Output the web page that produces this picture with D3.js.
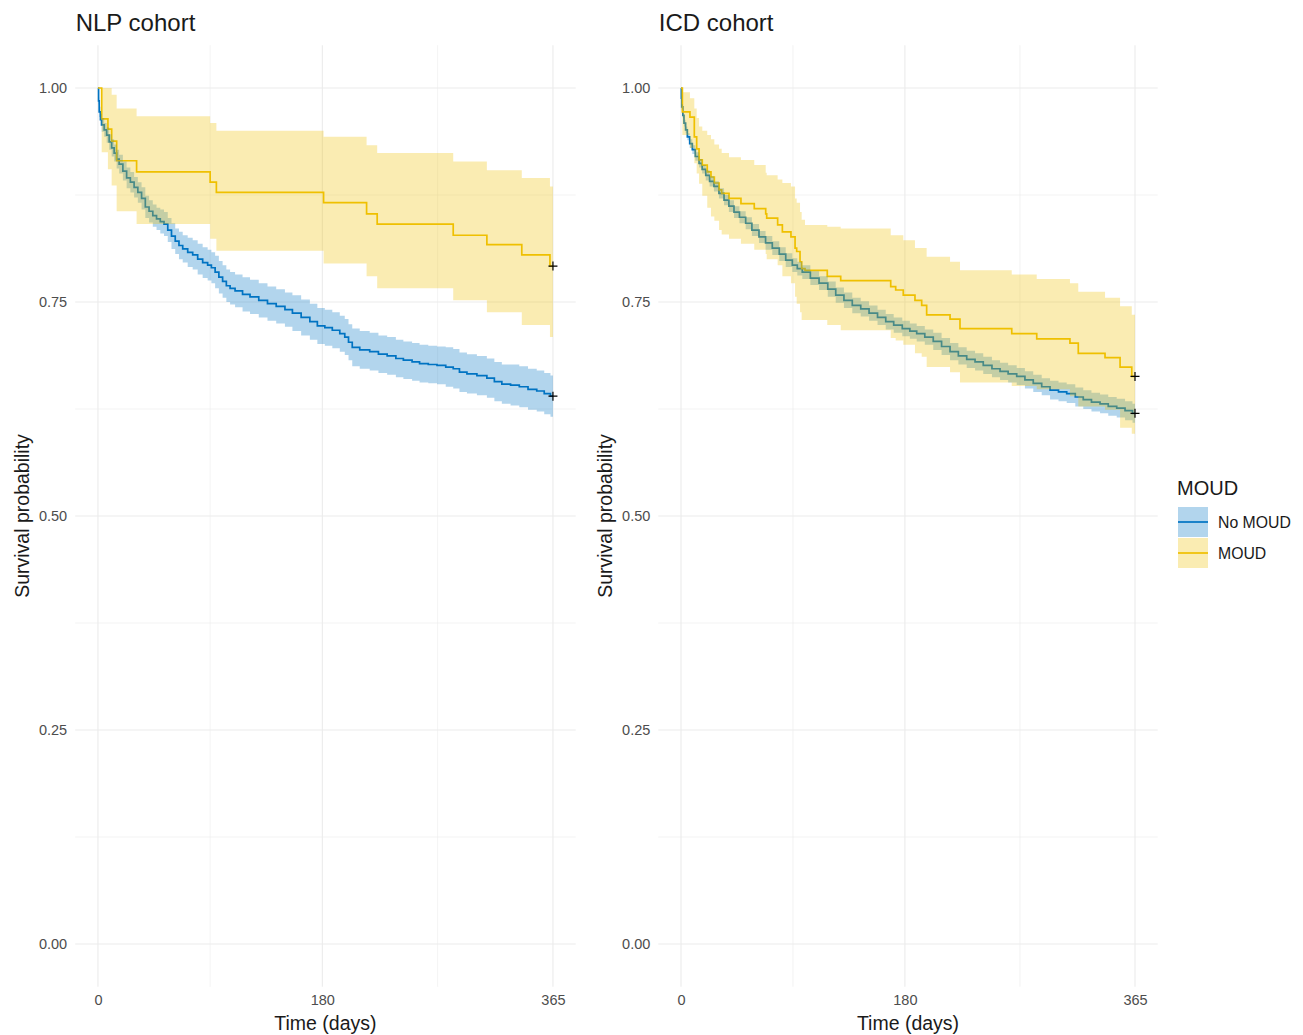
<!DOCTYPE html>
<html>
<head>
<meta charset="utf-8">
<script src="https://cdn.jsdelivr.net/npm/d3@7"></script>
<style>
  html, body { margin: 0; padding: 0; background: #fff; }
  svg { display: block; font-family: "Liberation Sans", Arial, sans-serif; }
</style>
</head>
<body>
<svg id="chart" width="1303" height="1035"></svg>
<script>
// ---------------- DATA ----------------
const xTicks = [0, 180, 365];
const xMinor = [90, 272.5];
const yTicks = [0, 0.25, 0.5, 0.75, 1.0];
const yMinor = [0.125, 0.375, 0.625, 0.875];
const yTickLabels = ["0.00", "0.25", "0.50", "0.75", "1.00"];
const panelTitles = ["NLP cohort", "ICD cohort"];
const groups = ["No MOUD", "MOUD"];
const groupColors = ["#0073C2", "#EFC000"];

// NLP cohort, No MOUD
const nlpNoTime  = [0,0.5,1,2,3,5,7,9,11,13,15,17,20,23,26,29,32,35,38,41,44,47,50,53,56,59,62,65,68,72,76,80,84,88,91,94,97,100,103,106,110,116,122,129,136,143,150,156,163,170,176,182,188,194,198,201,204,210,218,225,232,239,245,252,258,265,272,279,285,290,296,304,312,318,324,331,338,345,352,358,363,365];
const nlpNoSurv  = [1.000,0.985,0.972,0.963,0.957,0.951,0.945,0.937,0.930,0.924,0.917,0.911,0.903,0.895,0.890,0.884,0.878,0.871,0.861,0.856,0.851,0.847,0.844,0.841,0.834,0.827,0.821,0.816,0.812,0.808,0.805,0.800,0.796,0.793,0.790,0.785,0.779,0.774,0.769,0.766,0.763,0.759,0.756,0.752,0.748,0.745,0.741,0.737,0.732,0.727,0.722,0.720,0.717,0.713,0.709,0.703,0.697,0.694,0.692,0.689,0.687,0.684,0.682,0.680,0.678,0.677,0.676,0.674,0.672,0.668,0.666,0.664,0.661,0.657,0.654,0.653,0.651,0.648,0.646,0.643,0.640,0.640];
const nlpNoLower = [1.000,0.981,0.966,0.956,0.949,0.943,0.936,0.928,0.920,0.914,0.906,0.900,0.892,0.883,0.878,0.872,0.866,0.858,0.848,0.843,0.838,0.834,0.830,0.827,0.820,0.812,0.806,0.800,0.796,0.791,0.788,0.782,0.778,0.775,0.772,0.766,0.760,0.755,0.750,0.747,0.744,0.739,0.736,0.732,0.728,0.725,0.721,0.716,0.711,0.706,0.701,0.699,0.696,0.692,0.688,0.682,0.675,0.672,0.670,0.667,0.665,0.662,0.660,0.658,0.656,0.655,0.654,0.651,0.649,0.645,0.643,0.641,0.638,0.634,0.631,0.629,0.627,0.624,0.622,0.619,0.616,0.616];
const nlpNoUpper = [1.000,0.989,0.978,0.970,0.965,0.959,0.954,0.946,0.940,0.934,0.928,0.922,0.914,0.907,0.902,0.896,0.890,0.884,0.874,0.869,0.864,0.860,0.858,0.855,0.848,0.842,0.836,0.832,0.828,0.825,0.822,0.818,0.814,0.811,0.808,0.804,0.798,0.793,0.788,0.785,0.782,0.779,0.776,0.772,0.768,0.765,0.761,0.758,0.753,0.748,0.743,0.741,0.738,0.734,0.730,0.724,0.719,0.716,0.714,0.711,0.709,0.706,0.704,0.702,0.700,0.699,0.698,0.697,0.695,0.691,0.689,0.687,0.684,0.680,0.677,0.677,0.675,0.672,0.670,0.667,0.664,0.664];

// NLP cohort, MOUD
const nlpMoTime  = [0,3,8,11,15,31,90,95,181,215.5,224,285,312,340,362.6,365];
const nlpMoSurv  = [1.000,0.964,0.952,0.938,0.915,0.902,0.890,0.878,0.866,0.853,0.841,0.828,0.817,0.805,0.792,0.792];
const nlpMoLower = [1.000,0.925,0.905,0.886,0.856,0.841,0.824,0.810,0.795,0.780,0.766,0.752,0.738,0.723,0.709,0.709];
const nlpMoUpper = [1.000,1.000,1.000,0.992,0.976,0.967,0.959,0.950,0.943,0.933,0.924,0.914,0.904,0.895,0.885,0.885];

// ICD cohort, No MOUD
const icdNoTime  = [0,0.3,0.6,1.5,2.4,3.7,5.1,7,9.1,11.5,14.5,17,19.9,23,26.5,30.5,34.6,38.5,42.6,47,52,57,62.7,68,73.4,79,84.2,89.5,93.5,97.5,104,111,118,124.4,131,137.7,144.5,151.2,158,164.6,171,177.9,184,189.5,196,202.8,209.5,216.3,223,229.7,236.4,243,250,256.5,263,269.9,276.5,283.2,290,296.7,303.5,310.1,317,323.4,330,336.9,343.5,350.3,357,363,365];
const icdNoSurv  = [1.000,0.988,0.978,0.968,0.959,0.951,0.943,0.935,0.928,0.920,0.912,0.905,0.898,0.891,0.885,0.877,0.869,0.862,0.855,0.849,0.842,0.834,0.826,0.819,0.813,0.806,0.799,0.793,0.789,0.785,0.778,0.772,0.765,0.758,0.752,0.746,0.742,0.737,0.732,0.727,0.723,0.719,0.716,0.713,0.709,0.704,0.698,0.692,0.687,0.683,0.680,0.676,0.672,0.669,0.666,0.663,0.659,0.655,0.651,0.647,0.645,0.643,0.639,0.636,0.633,0.631,0.628,0.626,0.623,0.620,0.620];
const icdNoLower = [1.000,0.986,0.975,0.965,0.955,0.947,0.939,0.930,0.923,0.915,0.907,0.900,0.892,0.885,0.879,0.871,0.863,0.855,0.848,0.842,0.835,0.827,0.819,0.811,0.805,0.798,0.791,0.785,0.781,0.777,0.770,0.764,0.756,0.749,0.743,0.737,0.733,0.728,0.723,0.718,0.714,0.710,0.707,0.704,0.700,0.694,0.688,0.682,0.677,0.673,0.670,0.666,0.662,0.659,0.656,0.653,0.649,0.645,0.641,0.636,0.634,0.632,0.628,0.625,0.622,0.620,0.617,0.615,0.612,0.609,0.609];
const icdNoUpper = [1.000,0.990,0.981,0.971,0.963,0.955,0.947,0.940,0.933,0.925,0.917,0.910,0.904,0.897,0.891,0.883,0.875,0.869,0.862,0.856,0.849,0.841,0.833,0.827,0.821,0.814,0.807,0.801,0.797,0.793,0.786,0.780,0.774,0.767,0.761,0.755,0.751,0.746,0.741,0.736,0.732,0.728,0.725,0.722,0.718,0.714,0.708,0.702,0.697,0.693,0.690,0.686,0.682,0.679,0.676,0.673,0.669,0.665,0.661,0.658,0.656,0.654,0.650,0.647,0.644,0.642,0.639,0.637,0.634,0.631,0.631];

// ICD cohort, MOUD
const icdMoTime  = [0,1.1,7.2,10.7,12.6,14.5,17.1,21.1,24.1,26.8,30.6,32.7,38.6,48.2,58.9,68.1,68.9,77.7,81.5,88.4,91.7,93,95.7,97,99.7,117.6,128.4,168.6,172.6,178.7,188.1,193.5,197.5,216.3,224.3,265.9,286,312.7,319.4,340.9,353,362.4,365];
const icdMoSurv  = [1.000,0.972,0.966,0.943,0.929,0.916,0.910,0.902,0.896,0.889,0.881,0.877,0.871,0.865,0.859,0.853,0.848,0.840,0.832,0.826,0.813,0.809,0.797,0.789,0.787,0.780,0.775,0.768,0.764,0.758,0.752,0.746,0.735,0.730,0.719,0.713,0.707,0.702,0.690,0.685,0.674,0.663,0.663];
const icdMoLower = [1.000,0.945,0.930,0.912,0.900,0.888,0.874,0.860,0.850,0.845,0.834,0.829,0.824,0.818,0.811,0.806,0.800,0.793,0.780,0.772,0.756,0.748,0.738,0.729,0.729,0.723,0.717,0.708,0.705,0.700,0.690,0.686,0.674,0.668,0.656,0.652,0.648,0.640,0.628,0.624,0.603,0.596,0.596];
const icdMoUpper = [1.000,0.995,0.988,0.976,0.965,0.955,0.950,0.945,0.940,0.934,0.929,0.924,0.919,0.916,0.910,0.901,0.898,0.893,0.889,0.885,0.871,0.866,0.855,0.846,0.840,0.838,0.836,0.828,0.828,0.822,0.813,0.813,0.803,0.797,0.787,0.782,0.777,0.772,0.762,0.755,0.745,0.735,0.735];

// censoring marks at end of follow-up
const censorTime = [365, 365];
const nlpCensorSurv = [0.640, 0.792];
const icdCensorSurv = [0.620, 0.663];

// ---------------- BUILD ----------------
function series(t, s, lo, hi) {
  return t.map((d, i) => ({ t: d, s: s[i], lo: lo[i], hi: hi[i] }));
}
const panels = [
  {
    title: panelTitles[0], range: [75.2, 575.7],
    groups: [series(nlpNoTime, nlpNoSurv, nlpNoLower, nlpNoUpper),
             series(nlpMoTime, nlpMoSurv, nlpMoLower, nlpMoUpper)],
    censor: nlpCensorSurv
  },
  {
    title: panelTitles[1], range: [658.3, 1157.7],
    groups: [series(icdNoTime, icdNoSurv, icdNoLower, icdNoUpper),
             series(icdMoTime, icdMoSurv, icdMoLower, icdMoUpper)],
    censor: icdCensorSurv
  }
];

const svg = d3.select("#chart");
const y = d3.scaleLinear().domain([-0.05, 1.05]).range([986.8, 45.2]);
const gridCol = "#EBEBEB";
const FONT = "'Liberation Sans', Arial, sans-serif";

panels.forEach(p => {
  const x = d3.scaleLinear().domain([-18.25, 383.25]).range(p.range);
  const g = svg.append("g");

  // minor grid
  g.append("g").selectAll("line").data(yMinor).join("line")
    .attr("x1", p.range[0]).attr("x2", p.range[1])
    .attr("y1", d => y(d)).attr("y2", d => y(d))
    .attr("stroke", gridCol).attr("stroke-width", 0.6);
  g.append("g").selectAll("line").data(xMinor).join("line")
    .attr("y1", y.range()[0]).attr("y2", y.range()[1])
    .attr("x1", d => x(d)).attr("x2", d => x(d))
    .attr("stroke", gridCol).attr("stroke-width", 0.6);
  // major grid
  g.append("g").selectAll("line").data(yTicks).join("line")
    .attr("x1", p.range[0]).attr("x2", p.range[1])
    .attr("y1", d => y(d)).attr("y2", d => y(d))
    .attr("stroke", gridCol).attr("stroke-width", 1.1);
  g.append("g").selectAll("line").data(xTicks).join("line")
    .attr("y1", y.range()[0]).attr("y2", y.range()[1])
    .attr("x1", d => x(d)).attr("x2", d => x(d))
    .attr("stroke", gridCol).attr("stroke-width", 1.1);

  // axes (text only, theme_minimal)
  const xAxis = d3.axisBottom(x).tickValues(xTicks).tickSize(0).tickPadding(0);
  const xg = g.append("g").attr("transform", `translate(0, ${y.range()[0] + 8})`).call(xAxis);
  xg.select(".domain").remove();
  xg.selectAll("text").attr("fill", "#4D4D4D").attr("font-size", 14.5).attr("dy", "0.71em")
    .attr("font-family", FONT);

  const yAxis = d3.axisLeft(y).tickValues(yTicks).tickFormat((d, i) => yTickLabels[i]).tickSize(0).tickPadding(0);
  const yg = g.append("g").attr("transform", `translate(${p.range[0] - 8}, 0)`).call(yAxis);
  yg.select(".domain").remove();
  yg.selectAll("text").attr("fill", "#4D4D4D").attr("font-size", 14.5).attr("font-family", FONT);

  const cx = (p.range[0] + p.range[1]) / 2;
  g.append("text").attr("x", cx).attr("y", 1030).attr("text-anchor", "middle")
    .attr("font-size", 19.5).attr("fill", "#1a1a1a").text("Time (days)");
  g.append("text").attr("transform", `translate(${p.range[0] - 46}, ${y(0.5)}) rotate(-90)`)
    .attr("text-anchor", "middle").attr("font-size", 19.5).attr("fill", "#1a1a1a")
    .text("Survival probability");
  g.append("text").attr("x", p.range[0] + 0.5).attr("y", 31)
    .attr("font-size", 24).attr("fill", "#1a1a1a").text(p.title);

  const line = d3.line().x(d => x(d.t)).y(d => y(d.s)).curve(d3.curveStepAfter);
  const area = d3.area().x(d => x(d.t)).y0(d => y(d.lo)).y1(d => y(d.hi)).curve(d3.curveStepAfter);

  // lines first, then ribbons on top (as in ggsurvplot)
  p.groups.forEach((data, i) => {
    g.append("path").datum(data).attr("d", line)
      .attr("fill", "none").attr("stroke", groupColors[i]).attr("stroke-width", 1.7);
  });
  p.groups.forEach((data, i) => {
    g.append("path").datum(data).attr("d", area)
      .attr("fill", groupColors[i]).attr("fill-opacity", 0.3).attr("stroke", "none");
  });

  // censor marks
  g.append("g").selectAll("path").data(p.censor).join("path")
    .attr("d", (d, i) => {
      const cxp = x(censorTime[i]), cyp = y(d);
      return `M${cxp - 4.5},${cyp}H${cxp + 4.5}M${cxp},${cyp - 4.5}V${cyp + 4.5}`;
    })
    .attr("stroke", "#000").attr("stroke-width", 1.2).attr("fill", "none");
});

// legend
const lg = svg.append("g").attr("transform", "translate(1177, 0)");
lg.append("text").attr("x", 0).attr("y", 495).attr("font-size", 20).attr("fill", "#1a1a1a").text("MOUD");
groups.forEach((name, i) => {
  const top = 507 + i * 31;
  lg.append("rect").attr("x", 1).attr("y", top).attr("width", 30).attr("height", 30)
    .attr("fill", groupColors[i]).attr("fill-opacity", 0.3);
  lg.append("line").attr("x1", 1).attr("x2", 31).attr("y1", top + 15).attr("y2", top + 15)
    .attr("stroke", groupColors[i]).attr("stroke-width", 1.7);
  lg.append("text").attr("x", 41).attr("y", top + 15).attr("dy", "0.35em")
    .attr("font-size", 15.8).attr("fill", "#1a1a1a").text(name);
});
</script>
</body>
</html>
